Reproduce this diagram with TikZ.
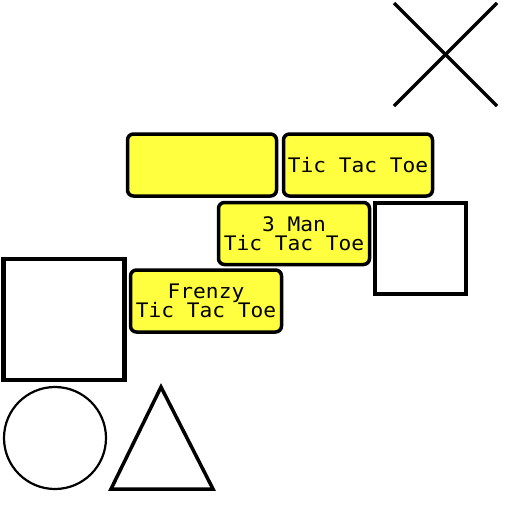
\documentclass[tikz,border=0pt]{standalone}
\usepackage{fontspec}
\newfontfamily\pixfont[FakeStretch=1.06]{DejaVu Sans Mono}
\definecolor{tileyellow}{RGB}{255,255,64}
\begin{document}
\begin{tikzpicture}[
    x=1pt, y=-1pt,
    tile/.style={rectangle, draw=black, fill=tileyellow, line width=3.5pt, rounded corners=6pt,
      minimum width=149pt, minimum height=62pt, inner sep=0pt, align=center,
      font=\pixfont\fontsize{20}{19.5}\selectfont},
    outline/.style={draw=black, line width=3.5pt},
]
\useasboundingbox (0,0) rectangle (512,512);
% yellow game tiles
\node[tile] (blank) at (202,165) {};
\node[tile] (classic) at (358,165) {Tic Tac Toe};
\node[tile, minimum width=151pt] (threeman) at (294,233.5) {3 Man\\Tic Tac Toe};
\node[tile, minimum width=151pt] (frenzy) at (206,301) {Frenzy\\Tic Tac Toe};
% plain shapes
\node[outline, rectangle, minimum size=91pt] (smallsq) at (420.5,248.5) {};
\node[outline, rectangle, line width=4.5pt, minimum size=121pt] (bigsq) at (64,319.5) {};
\node[outline, circle, line width=2.2pt, minimum size=102pt] (ring) at (55,438) {};
\draw[outline, line join=miter] (161,387) -- (213,489) -- (111,489) -- cycle;
\draw[outline] (394,3) -- (497,106);
\draw[outline] (497,3) -- (394,106);
\end{tikzpicture}
\end{document}
